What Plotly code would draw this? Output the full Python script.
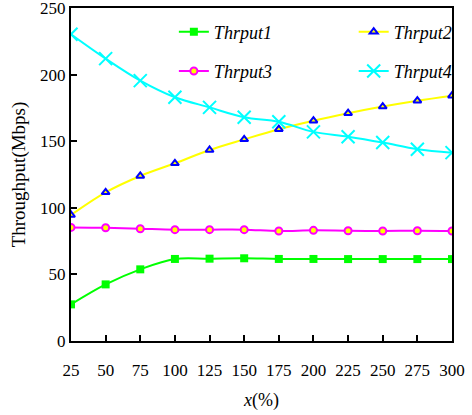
import plotly.graph_objects as go

x_vals = [25, 50, 75, 100, 125, 150, 175, 200, 225, 250, 275, 300]
thrput1 = [27.5, 42.5, 53.8, 61.6, 61.8, 62.1, 61.6, 61.6, 61.5, 61.5, 61.5, 61.5]
thrput2 = [94.6, 111.6, 123.9, 133.4, 143.4, 151.4, 159.0, 165.4, 171.0, 176.0, 180.4, 184.2]
thrput3 = [85.3, 85.0, 84.3, 83.6, 83.6, 83.6, 82.6, 83.1, 82.8, 82.6, 82.8, 82.6]
thrput4 = [230.3, 212.0, 195.5, 183.0, 175.4, 168.0, 164.6, 157.0, 153.4, 149.0, 144.0, 141.4]
x_ticks = [25, 50, 75, 100, 125, 150, 175, 200, 225, 250, 275, 300]
y_ticks = [0, 50, 100, 150, 200, 250]

FONT = "Liberation Serif"

fig = go.Figure()
fig.add_trace(go.Scatter(
    x=x_vals, y=thrput1, name="Thrput1", mode="lines+markers",
    line=dict(color="#00ff00", width=2, shape="spline"),
    marker=dict(symbol="square", size=8, color="#00ff00"),
    legend="legend"))
fig.add_trace(go.Scatter(
    x=x_vals, y=thrput2, name="Thrput2", mode="lines+markers",
    line=dict(color="#ffff00", width=2, shape="spline"),
    marker=dict(symbol="triangle-up", size=7, color="#ffff00",
                line=dict(color="#0000ff", width=2)),
    legend="legend2"))
fig.add_trace(go.Scatter(
    x=x_vals, y=thrput3, name="Thrput3", mode="lines+markers",
    line=dict(color="#ff00ff", width=2, shape="spline"),
    marker=dict(symbol="circle", size=7, color="#ffff00",
                line=dict(color="#ff00ff", width=2)),
    legend="legend3"))
fig.add_trace(go.Scatter(
    x=x_vals, y=thrput4, name="Thrput4", mode="lines+markers",
    line=dict(color="#00ffff", width=2, shape="spline"),
    marker=dict(symbol="x-thin", size=13, color="#00ffff",
                line=dict(color="#00ffff", width=2)),
    legend="legend4"))

leg_common = dict(orientation="h", xanchor="left", yanchor="middle",
                  font=dict(family=FONT, size=18, style="italic", color="black"),
                  bgcolor="rgba(0,0,0,0)")

col1 = 0.27
col2 = 0.742
row1 = 0.928
row2 = 0.81

fig.update_layout(
    width=472, height=415,
    margin=dict(l=71, r=20, t=8, b=74),
    paper_bgcolor="white", plot_bgcolor="white",
    font=dict(family=FONT, color="black"),
    showlegend=True,
    legend=dict(x=col1, y=row1, **leg_common),
    legend2=dict(x=col2, y=row1, **leg_common),
    legend3=dict(x=col1, y=row2, **leg_common),
    legend4=dict(x=col2, y=row2, **leg_common),
    xaxis=dict(
        range=[25, 300], tickvals=x_ticks, ticks="inside", ticklen=6,
        tickwidth=1.5, tickcolor="black", automargin=False,
        ticklabeloverflow="allow",
        showline=True, linecolor="black", linewidth=2, mirror=True,
        showgrid=False, zeroline=False,
        tickfont=dict(family=FONT, size=17), ticklabelstandoff=13,
        title=dict(text="<i>x</i>(%)", font=dict(family=FONT, size=18), standoff=14)),
    yaxis=dict(
        range=[0, 250], tickvals=y_ticks, ticks="inside", ticklen=6,
        tickwidth=1.5, tickcolor="black", automargin=False,
        ticklabeloverflow="allow",
        showline=True, linecolor="black", linewidth=2, mirror=True,
        showgrid=False, zeroline=False,
        tickfont=dict(family=FONT, size=17),
        title=dict(text="Throughput(Mbps)", font=dict(family=FONT, size=19), standoff=9)),
)

fig.write_html("out.html")
